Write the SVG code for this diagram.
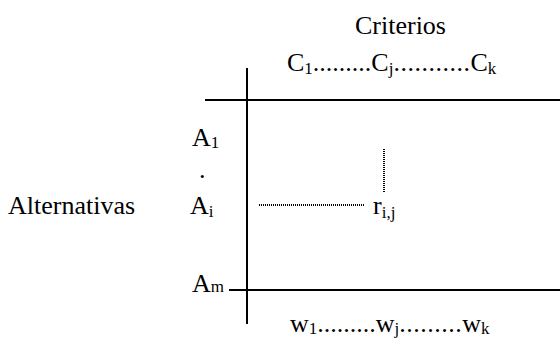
<svg xmlns="http://www.w3.org/2000/svg" width="560" height="345" viewBox="0 0 560 345">
<style>
text{font-family:"Liberation Serif","Times New Roman",serif;font-size:26px;fill:#000}
.s{font-size:17px}
.d{letter-spacing:0.5px}
.ln{stroke:#000;stroke-width:2;fill:none}
.dt{stroke:#000;stroke-width:2;stroke-dasharray:1 1;fill:none}
</style>
<rect width="560" height="345" fill="#fff"/>
<g id="connectors">
<line class="ln" x1="247" y1="68" x2="247" y2="324"/>
<line class="ln" x1="205" y1="100" x2="560" y2="100"/>
<line class="ln" x1="229" y1="290" x2="560" y2="290"/>
<line class="dt" x1="384" y1="149" x2="384" y2="192"/>
<line class="dt" x1="259" y1="205" x2="364" y2="205"/>
</g>
<g id="criterios"><text x="355" y="34">Criterios</text></g>
<g id="cols"><text x="287" y="71">C<tspan class="s" dy="3">1</tspan><tspan dy="-3">.........C</tspan><tspan class="s" dy="3">j</tspan><tspan class="d" dy="-3">...........</tspan>C<tspan class="s" dy="3">k</tspan></text></g>
<g id="a1"><text x="192" y="146">A<tspan class="s" dy="2">1</tspan></text></g>
<g id="dot"><text x="199" y="178">.</text></g>
<g id="ai"><text x="190" y="214">A<tspan class="s" dy="3">i</tspan></text></g>
<g id="alternativas"><text x="8" y="214">Alternativas</text></g>
<g id="rij"><text x="373" y="214">r<tspan class="s" dy="4">i,j</tspan></text></g>
<g id="am"><text x="192" y="292">A<tspan class="s">m</tspan></text></g>
<g id="weights"><text x="290" y="332">w<tspan class="s" dy="2">1</tspan><tspan dy="-2">.........w</tspan><tspan class="s" dy="2">j</tspan><tspan class="d" dy="-2">.........</tspan>w<tspan class="s" dy="2">k</tspan></text></g>
</svg>
